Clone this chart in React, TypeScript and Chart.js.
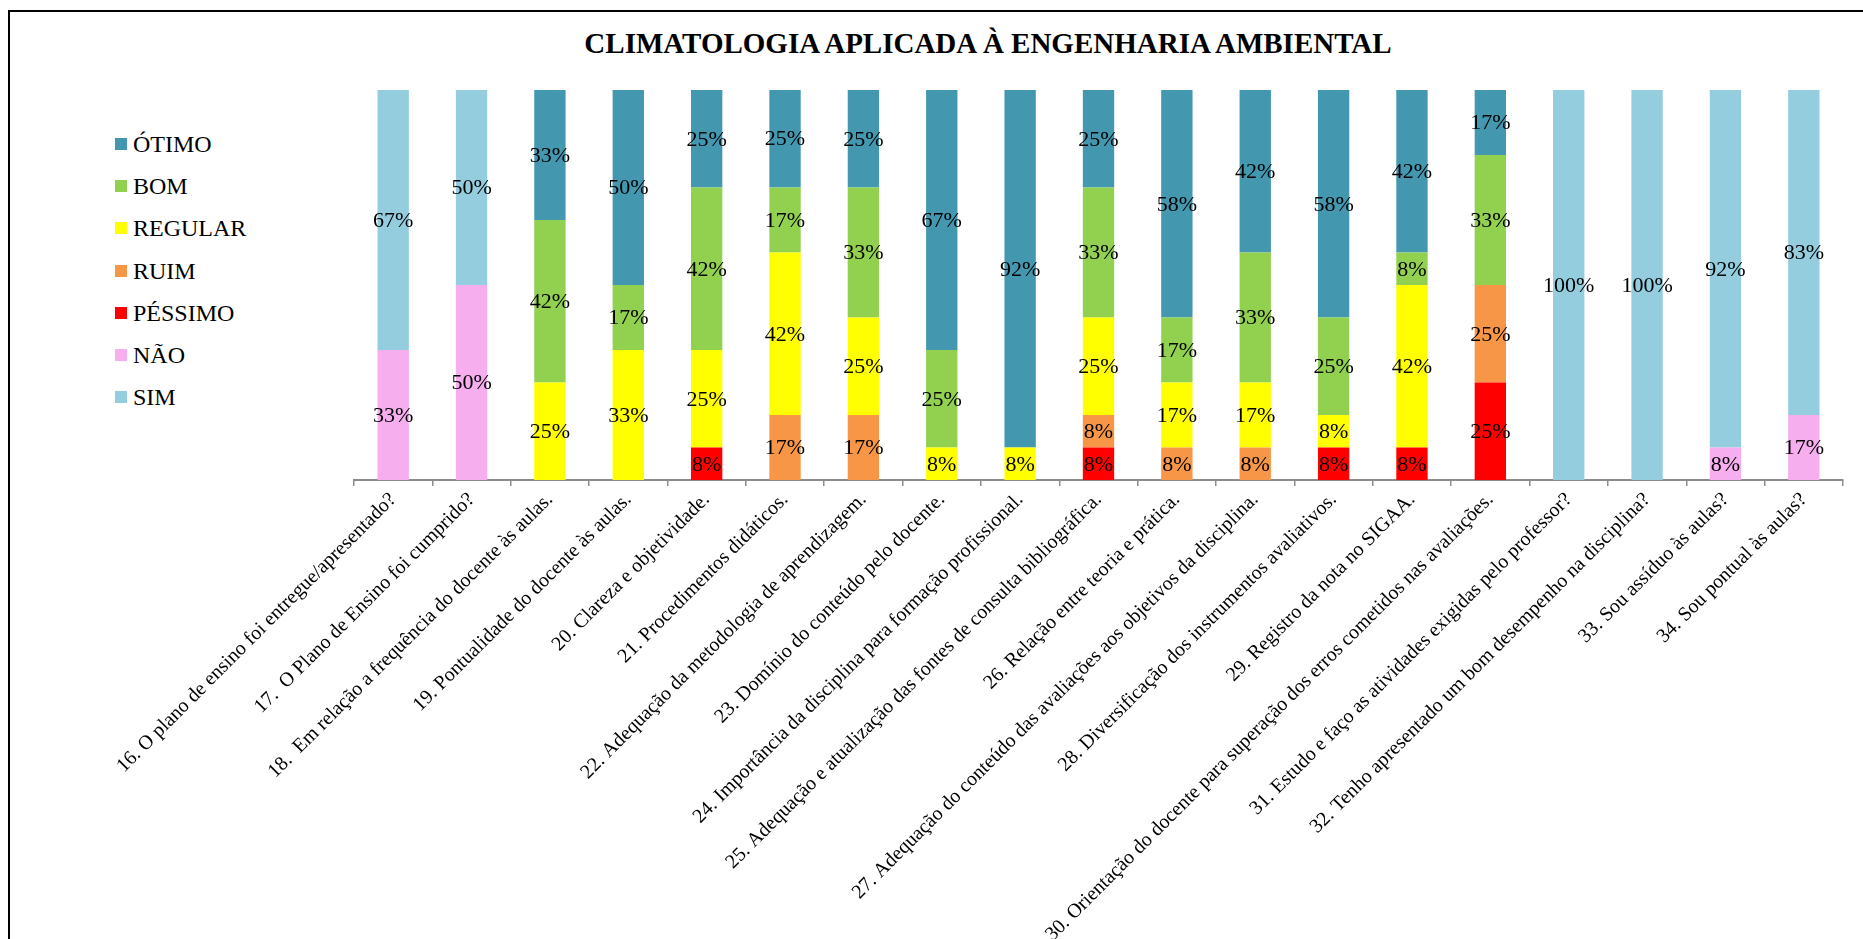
import React, { useEffect, useRef } from "react";
import { Chart, registerables } from "chart.js";

Chart.register(...registerables);

const TITLE = "CLIMATOLOGIA APLICADA À ENGENHARIA AMBIENTAL";

const CATEGORIES = [
  "16. O plano de ensino foi entregue/apresentado?",
  "17.  O Plano de Ensino foi cumprido?",
  "18.  Em relação a frequência do docente às aulas.",
  "19. Pontualidade do docente às aulas.",
  "20. Clareza e objetividade.",
  "21. Procedimentos didáticos.",
  "22. Adequação da metodologia de aprendizagem.",
  "23. Domínio do conteúdo pelo docente.",
  "24. Importância da disciplina para formação profissional.",
  "25. Adequação e atualização das fontes de consulta bibliográfica.",
  "26. Relação entre teoria e prática.",
  "27. Adequação do conteúdo das avaliações aos objetivos da disciplina.",
  "28. Diversificação dos instrumentos avaliativos.",
  "29. Registro da nota no SIGAA.",
  "30. Orientação do docente para superação dos erros cometidos nas avaliações.",
  "31. Estudo e faço as atividades exigidas pelo professor?",
  "32. Tenho apresentado um bom desempenho na disciplina?",
  "33. Sou assíduo às aulas?",
  "34. Sou pontual às aulas?",
];

// values in % (stacked bottom to top: PÉSSIMO, RUIM, REGULAR, BOM, ÓTIMO, NÃO, SIM)
const PESSIMO = [0, 0, 0, 0, 8.33, 0, 0, 0, 0, 8.33, 0, 0, 8.33, 8.33, 25, 0, 0, 0, 0];
const RUIM = [0, 0, 0, 0, 0, 16.67, 16.67, 0, 0, 8.33, 8.33, 8.33, 0, 0, 25, 0, 0, 0, 0];
const REGULAR = [0, 0, 25, 33.33, 25, 41.67, 25, 8.33, 8.33, 25, 16.67, 16.67, 8.33, 41.67, 0, 0, 0, 0, 0];
const BOM = [0, 0, 41.67, 16.67, 41.67, 16.67, 33.33, 25, 0, 33.33, 16.67, 33.33, 25, 8.33, 33.33, 0, 0, 0, 0];
const OTIMO = [0, 0, 33.33, 50, 25, 25, 25, 66.67, 91.67, 25, 58.33, 41.67, 58.33, 41.67, 16.67, 0, 0, 0, 0];
const NAO = [33.33, 50, 0, 0, 0, 0, 0, 0, 0, 0, 0, 0, 0, 0, 0, 0, 0, 8.33, 16.67];
const SIM = [66.67, 50, 0, 0, 0, 0, 0, 0, 0, 0, 0, 0, 0, 0, 0, 100, 100, 91.67, 83.33];

const SERIES = [
  { name: "PÉSSIMO", data: PESSIMO, color: "#FF0000" },
  { name: "RUIM", data: RUIM, color: "#F79646" },
  { name: "REGULAR", data: REGULAR, color: "#FFFF00" },
  { name: "BOM", data: BOM, color: "#92D050" },
  { name: "ÓTIMO", data: OTIMO, color: "#4398AF" },
  { name: "NÃO", data: NAO, color: "#F6AEEE" },
  { name: "SIM", data: SIM, color: "#94CDDD" },
];

const LEGEND_ORDER = ["ÓTIMO", "BOM", "REGULAR", "RUIM", "PÉSSIMO", "NÃO", "SIM"];

const FONT = '"Liberation Serif", "Times New Roman", serif';

const segLabels = {
  id: "segLabels",
  afterDatasetsDraw(chart: any) {
    const ctx = chart.ctx;
    ctx.save();
    ctx.font = '22px "Liberation Serif"';
    ctx.fillStyle = "#000";
    ctx.textAlign = "center";
    ctx.textBaseline = "middle";
    chart.data.datasets.forEach((ds: any, i: number) => {
      const meta = chart.getDatasetMeta(i);
      meta.data.forEach((bar: any, j: number) => {
        const v = ds.data[j];
        if (!v) return;
        const p = bar.getProps(["x", "y", "base"], true);
        ctx.fillText(Math.round(v) + "%", p.x, (p.y + p.base) / 2 + 1);
      });
    });
    ctx.restore();
  },
};

export default function App() {
  const ref = useRef<HTMLCanvasElement | null>(null);

  useEffect(() => {
    if (!ref.current) return;
    const chart = new Chart(ref.current, {
      type: "bar",
      data: {
        labels: CATEGORIES,
        datasets: SERIES.map((s) => ({
          label: s.name,
          data: s.data,
          backgroundColor: s.color,
          borderWidth: 0,
          barPercentage: 0.4,
          categoryPercentage: 1,
        })),
      },
      options: {
        animation: false,
        responsive: true,
        maintainAspectRatio: false,
        layout: { padding: { left: 354, right: 20, top: 90, bottom: 0 } },
        plugins: {
          legend: { display: false },
          title: { display: false },
          tooltip: { enabled: false },
        },
        scales: {
          x: {
            stacked: true,
            grid: {
              display: true,
              drawOnChartArea: false,
              drawTicks: true,
              tickLength: 6,
              color: "#8c8c8c",
              lineWidth: 1.5,
              offset: true,
            },
            border: { display: true, color: "#8c8c8c", width: 2 },
            ticks: {
              autoSkip: false,
              maxRotation: 45,
              minRotation: 45,
              color: "#000",
              padding: 2,
              font: { family: "Liberation Serif", size: 20 },
            },
            afterFit: (s: any) => {
              s.height = 459;
            },
          },
          y: { stacked: true, display: false, min: 0, max: 100 },
        },
      },
      plugins: [segLabels],
    });
    return () => chart.destroy();
  }, []);

  return (
    <div
      style={{
        position: "fixed",
        left: 0,
        top: 0,
        width: 1863,
        height: 939,
        overflow: "hidden",
        background: "#fff",
      }}
    >
      <div
        style={{
          position: "absolute",
          left: 8,
          top: 10,
          width: 1900,
          height: 1000,
          borderLeft: "2px solid #000",
          borderTop: "2px solid #000",
        }}
      />
      <div
        style={{
          position: "absolute",
          left: 988 - 500,
          top: 26,
          width: 1000,
          textAlign: "center",
          font: `bold 29px/34px ${FONT}`,
          color: "#000",
          whiteSpace: "nowrap",
        }}
      >
        {TITLE}
      </div>
      {LEGEND_ORDER.map((name, i) => {
        const s = SERIES.find((x) => x.name === name)!;
        const baseline = 152 + 42.2 * i;
        return (
          <React.Fragment key={name}>
            <div
              style={{
                position: "absolute",
                left: 115,
                top: baseline - 14,
                width: 12,
                height: 12,
                background: s.color,
              }}
            />
            <div
              style={{
                position: "absolute",
                left: 133,
                top: baseline - 20,
                font: `24px/24px ${FONT}`,
                color: "#000",
                whiteSpace: "nowrap",
              }}
            >
              {name}
            </div>
          </React.Fragment>
        );
      })}
      <div style={{ position: "absolute", left: 0, top: 0, width: 1863, height: 939 }}>
        <canvas ref={ref} />
      </div>
    </div>
  );
}
